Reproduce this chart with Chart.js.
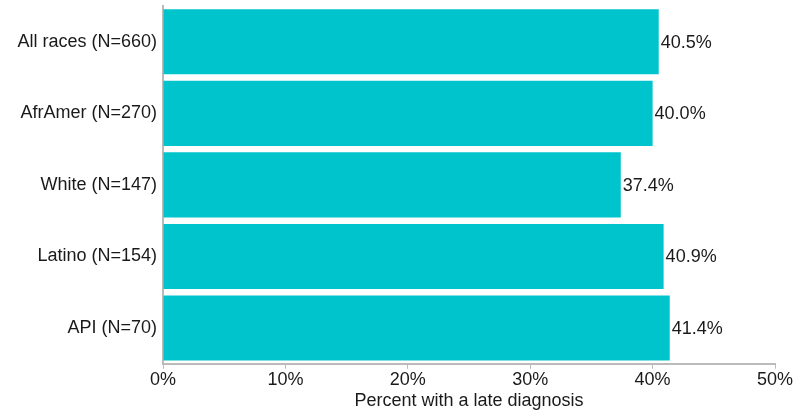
<!DOCTYPE html>
<html>
<head>
<meta charset="utf-8">
<script src="https://cdn.jsdelivr.net/npm/chart.js@4.4.0/dist/chart.umd.min.js"></script>
<style>
  html, body { margin: 0; padding: 0; background: #fff; }
  #wrap { width: 804px; height: 416px; }
</style>
</head>
<body>
<div id="wrap"><canvas id="chart"></canvas></div>
<script>
// datos
const groups = ['All races (N=660)', 'AfrAmer (N=270)', 'White (N=147)', 'Latino (N=154)', 'API (N=70)'];
const lateDiag = [40.5, 40.0, 37.4, 40.9, 41.4];
const xTicks = [0, 10, 20, 30, 40, 50];

// etiquetas de valor al final de cada barra
const valueLabels = {
    id: 'valueLabels',
    afterDatasetsDraw(chart) {
        const ctx = chart.ctx;
        const meta = chart.getDatasetMeta(0);
        ctx.save();
        ctx.font = '18px "Liberation Sans", Arial, sans-serif';
        ctx.fillStyle = '#1a1a1a';
        ctx.textAlign = 'left';
        ctx.textBaseline = 'middle';
        meta.data.forEach((bar, i) => {
            ctx.fillText(lateDiag[i].toFixed(1) + '%', bar.x + 2, bar.y + 1);
        });
        ctx.restore();
    }
};

Chart.defaults.font.family = '"Liberation Sans", Arial, sans-serif';
Chart.defaults.color = '#1a1a1a';

new Chart(document.getElementById('chart'), {
    type: 'bar',
    data: {
        labels: groups,
        datasets: [{
            data: lateDiag,
            backgroundColor: '#00C4CC',
            borderWidth: 0,
            barPercentage: 0.91,
            categoryPercentage: 1.0
        }]
    },
    plugins: [valueLabels],
    options: {
        indexAxis: 'y',
        responsive: true,
        maintainAspectRatio: false,
        animation: false,
        layout: { padding: { top: 6, right: 29, bottom: 4, left: 0 } },
        plugins: {
            legend: { display: false },
            tooltip: { enabled: false }
        },
        scales: {
            x: {
                min: 0,
                max: 50,
                afterBuildTicks(scale) {
                    scale.ticks = xTicks.map(v => ({ value: v }));
                },
                afterFit(scale) {
                    scale.paddingLeft = 0;
                    scale.paddingRight = 0;
                },
                grid: {
                    drawOnChartArea: false,
                    drawTicks: true,
                    tickLength: 5,
                    color: '#bbb'
                },
                border: { color: '#bbb', width: 2 },
                ticks: {
                    font: { size: 18 },
                    padding: 0,
                    maxRotation: 0,
                    callback: v => v + '%'
                },
                title: {
                    display: true,
                    text: 'Percent with a late diagnosis',
                    font: { size: 18 },
                    padding: { top: 0, bottom: 0 }
                }
            },
            y: {
                afterFit(scale) {
                    scale.width = 163;
                    scale.paddingTop = 0;
                    scale.paddingBottom = 0;
                },
                grid: { display: false, drawTicks: false },
                border: { color: '#bbb', width: 2 },
                ticks: {
                    font: { size: 18 },
                    padding: 6
                }
            }
        }
    }
});
</script>
</body>
</html>
